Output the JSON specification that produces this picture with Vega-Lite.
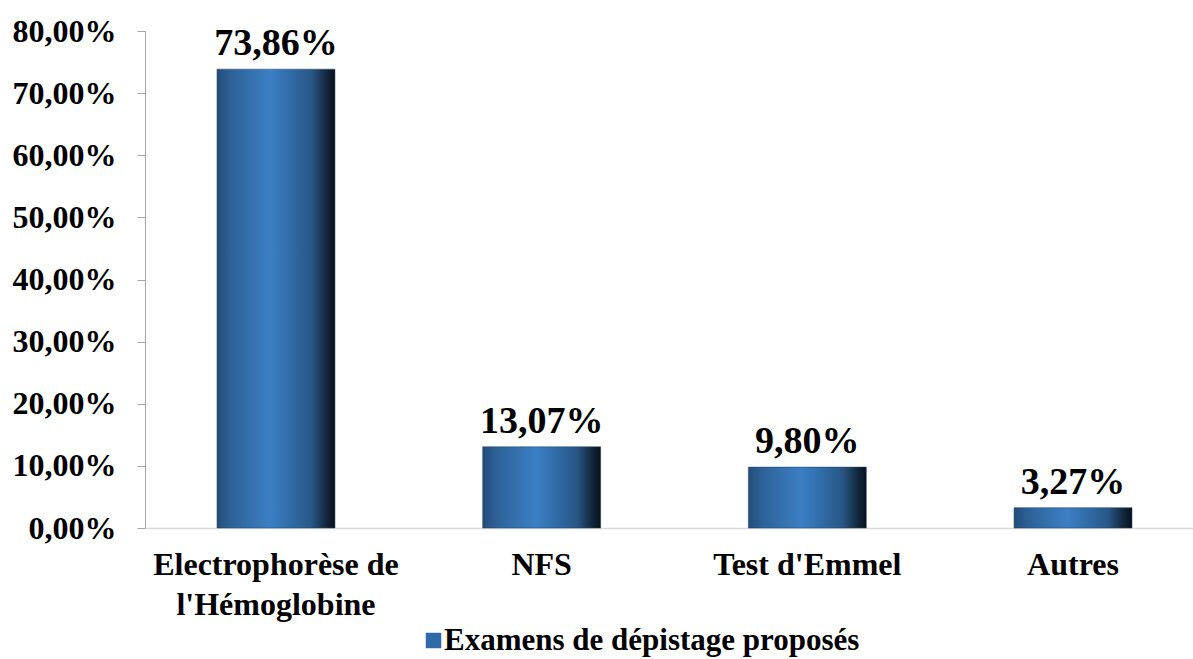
{
  "$schema": "https://vega.github.io/schema/vega-lite/v6.json",
  "autosize": "none",
  "width": 1059,
  "height": 497,
  "padding": {"left": 145, "top": 31, "right": 0, "bottom": 131},
  "background": "white",
  "config": {
    "locale": {"number": {"decimal": ",", "thousands": " ", "grouping": [3], "currency": ["", " €"]}},
    "view": {"stroke": null},
    "font": "Liberation Serif"
  },
  "data": {
    "values": [
      {"examen": "Electrophorèse de l'Hémoglobine", "pct": 0.7386, "serie": "Examens de dépistage proposés"},
      {"examen": "NFS", "pct": 0.1307, "serie": "Examens de dépistage proposés"},
      {"examen": "Test d'Emmel", "pct": 0.098, "serie": "Examens de dépistage proposés"},
      {"examen": "Autres", "pct": 0.0327, "serie": "Examens de dépistage proposés"}
    ]
  },
  "encoding": {
    "x": {
      "field": "examen", "type": "nominal", "sort": null,
      "scale": {"paddingInner": 0.556, "paddingOuter": 0.271},
      "axis": {
        "title": null, "labelAngle": 0, "ticks": false, "labelLimit": 0,
        "domainColor": "#d9d9d9", "domainWidth": 1.5,
        "labelFont": "Liberation Serif", "labelFontWeight": "bold", "labelFontSize": 32, "labelColor": "#000000",
        "labelPadding": 21, "labelLineHeight": 40,
        "labelExpr": "datum.label == \"Electrophorèse de l'Hémoglobine\" ? ['Electrophorèse de', \"l'Hémoglobine\"] : datum.label"
      }
    },
    "y": {
      "field": "pct", "type": "quantitative",
      "scale": {"domain": [0, 0.8], "nice": false},
      "axis": {
        "title": null, "format": ".2%", "values": [0, 0.1, 0.2, 0.3, 0.4, 0.5, 0.6, 0.7, 0.8],
        "grid": false, "domainColor": "#a6a6a6", "tickColor": "#a6a6a6", "tickSize": 8,
        "labelFont": "Liberation Serif", "labelFontWeight": "bold", "labelFontSize": 32, "labelColor": "#000000",
        "labelPadding": 21
      }
    }
  },
  "layer": [
    {
      "mark": {"type": "bar", "stroke": "#1f3f60", "strokeWidth": 0.5,
        "color": {"gradient": "linear", "x1": 0, "y1": 0, "x2": 1, "y2": 0, "stops": [
            {"offset": 0, "color": "#244d77"},
            {"offset": 0.12, "color": "#2d6298"},
            {"offset": 0.45, "color": "#3c7fc4"},
            {"offset": 0.55, "color": "#3574b5"},
            {"offset": 0.8, "color": "#275785"},
            {"offset": 0.93, "color": "#12263b"},
            {"offset": 1, "color": "#08111b"}
          ]}
      }
    },
    {
      "mark": {"type": "square", "opacity": 0},
      "encoding": {
        "color": {
          "field": "serie", "type": "nominal",
          "scale": {"range": ["#2f6aa8"]},
          "legend": {
            "title": null, "orient": "none", "legendX": 273, "legendY": 594,
            "symbolType": "square", "symbolSize": 240, "symbolStrokeWidth": 0, "symbolOpacity": 1,
            "labelFont": "Liberation Serif", "labelFontWeight": "bold", "labelFontSize": 31, "labelColor": "#000000",
            "labelOffset": -5, "labelLimit": 0
          }
        }
      }
    },
    {
      "mark": {"type": "text", "baseline": "bottom", "dy": -6, "font": "Liberation Serif", "fontWeight": "bold", "fontSize": 38, "color": "#000000"},
      "encoding": {
        "text": {"field": "pct", "type": "quantitative", "format": ".2%"}
      }
    }
  ]
}
